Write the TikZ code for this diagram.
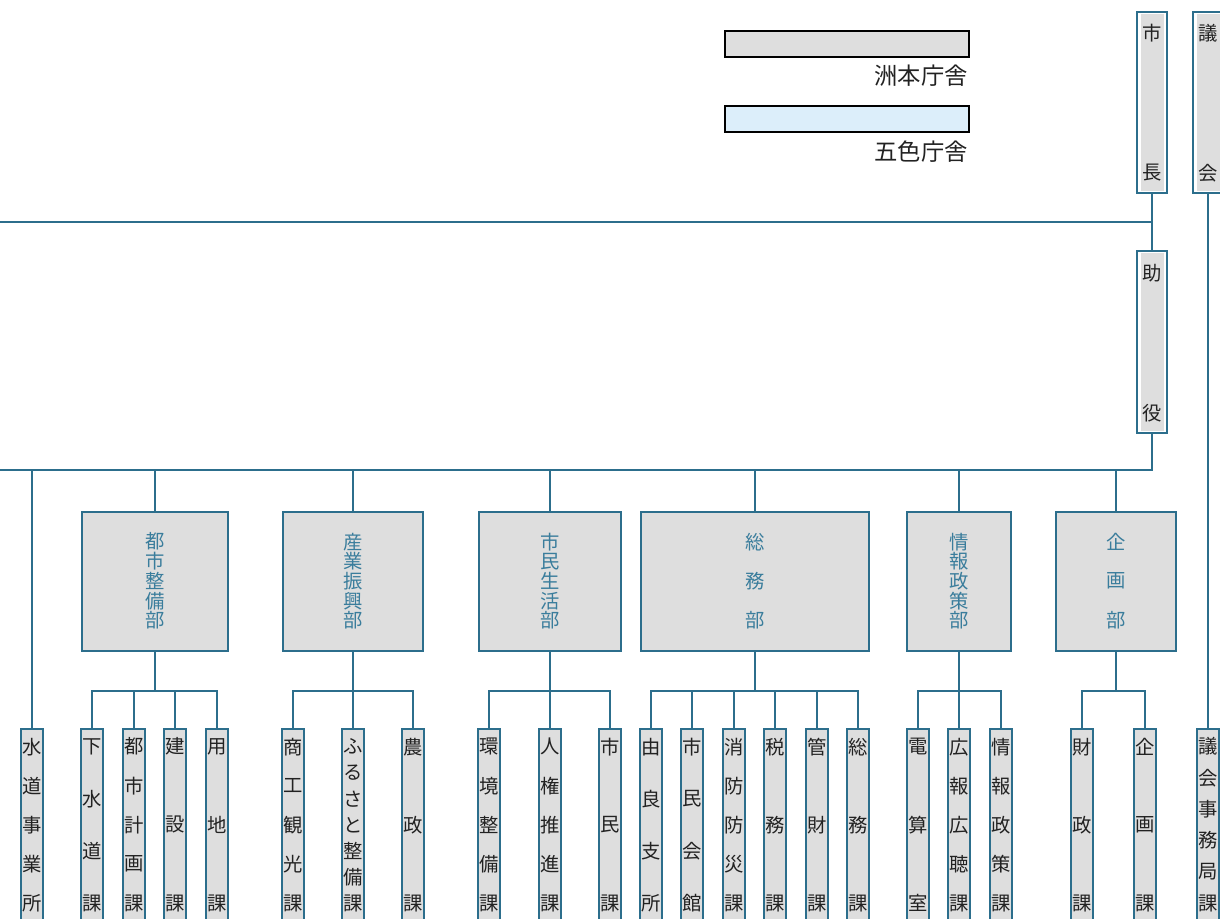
\documentclass[tikz,border=0pt]{standalone}
\usepackage{fontspec}
\setmainfont{Noto Sans CJK JP}
\usetikzlibrary{calc}
\definecolor{tealline}{HTML}{2C6E8C}
\definecolor{boxgray}{HTML}{DEDEDE}
\definecolor{legblue}{HTML}{DCEEFA}
\definecolor{depttext}{HTML}{3A7D9C}
\definecolor{chartext}{HTML}{222222}
\tikzset{
  conn/.style={draw=tealline, line width=1.1pt},
  childbox/.style={draw=tealline, fill=boxgray, line width=1.2pt, inner sep=0pt,
    minimum width=16.5pt, minimum height=147pt},
  deptbox/.style={draw=tealline, fill=boxgray, line width=1.2pt, inner sep=0pt, minimum height=104.25pt},
  topbox/.style={draw=tealline, fill=white, line width=1.3pt, inner sep=0pt, minimum width=22.5pt, minimum height=136pt},
  childtext/.style={inner sep=0pt, text=chartext, font=\fontsize{14.5}{14.5}\selectfont},
  depttxt/.style={inner sep=0pt, text=depttext, font=\fontsize{14.5}{14.5}\selectfont},
  legbar/.style={draw=black, line width=1pt, inner sep=0pt, minimum width=183pt, minimum height=19.5pt},
  legtext/.style={inner sep=0pt, anchor=east, text=chartext, font=\fontsize{17.5}{17.5}\selectfont},
}
% #1 prefix, #2 style, #3 x, #4 ytop, #5 ybot, #6 n, #7 list
\newcommand{\vchars}[7]{%
  \foreach \c [count=\i] in {#7} {
    \node[#2] (#1-\i) at ({#3},{#4+(\i-1)*(#5-#4)/(#6-1)}) {\c};
  }%
}
% child: #1 name, #2 x, #3 n, #4 chars
\newcommand{\childnode}[4]{%
  \node[childbox] (#1) at (#2,826.75) {};
  \vchars{#1}{childtext}{#2}{746.7}{903}{#3}{#4}%
}
% dept: #1 name, #2 x1, #3 x2, #4 n, #5 chars
\newcommand{\deptnode}[5]{%
  \node[deptbox, minimum width={(#3-#2)*0.75pt}] (#1) at ({(#2+#3)/2},581.5) {};
  \vchars{#1}{depttxt}{(#2+#3)/2}{541.7}{620.5}{#4}{#5}%
  \coordinate (#1-bus) at ($(#1.south)+(0,39)$);
  \draw[conn] (#1.south) -- (#1-bus);
}
\begin{document}
\begin{tikzpicture}[x=0.75pt, y=-0.75pt]
\useasboundingbox (0,0) rectangle (1220,919);

% legend
\node[legbar, fill=boxgray] (leg1) at (847,44) {};
\node[legtext] (leg1t) at (968,76) {洲本庁舎};
\node[legbar, fill=legblue] (leg2) at (847,119) {};
\node[legtext] (leg2t) at (968,152) {五色庁舎};

% top boxes
\node[topbox] (mayor) at (1152,102.5) {};
\fill[boxgray] ($(mayor.south west)+(5,-3)$) rectangle ($(mayor.north east)+(-4,3)$);
\vchars{mayor}{childtext}{1152.5}{33}{173}{2}{市,長}
\node[topbox] (gikai) at (1208,102.5) {};
\fill[boxgray] ($(gikai.south west)+(5,-3)$) rectangle ($(gikai.north east)+(-4,3)$);
\vchars{gikai}{childtext}{1208.5}{33}{173}{2}{議,会}
\node[topbox] (joyaku) at (1152,342) {};
\fill[boxgray] ($(joyaku.south west)+(5,-3)$) rectangle ($(joyaku.north east)+(-4,3)$);
\vchars{joyaku}{childtext}{1152.5}{273}{413}{2}{助,役}

\coordinate (L1) at (0,222);
\coordinate (L2) at (0,470);
\draw[conn] (mayor.south) -- (joyaku.north);
\draw[conn] (mayor.south |- L1) -- (L1);
\draw[conn] (joyaku.south) |- (L2);

% departments
\deptnode{toshi}{82}{228}{5}{都,市,整,備,部}
\deptnode{sangyo}{283}{423}{5}{産,業,振,興,部}
\deptnode{shimin}{479}{621}{5}{市,民,生,活,部}
\deptnode{somu}{641}{869}{3}{総,務,部}
\deptnode{joho}{907}{1011}{5}{情,報,政,策,部}
\deptnode{kikaku}{1056}{1176}{3}{企,画,部}
\foreach \d in {toshi,sangyo,shimin,somu,joho,kikaku}
  \draw[conn] (\d.north) -- (\d.north |- L2);

% sections
\childnode{suido}{32}{5}{水,道,事,業,所}
\draw[conn] (suido.north) -- (suido.north |- L2);
\childnode{gikaijimu}{1208}{6}{議,会,事,務,局,課}
\draw[conn] (gikai.south) -- (gikaijimu.north);

\childnode{gesui}{92}{4}{下,水,道,課}
\childnode{toshikeikaku}{134}{5}{都,市,計,画,課}
\childnode{kensetsu}{175}{3}{建,設,課}
\childnode{yochi}{217}{3}{用,地,課}
\foreach \c in {gesui,toshikeikaku,kensetsu,yochi} \draw[conn] (\c.north) |- (toshi-bus);

\childnode{shoko}{293}{5}{商,工,観,光,課}
\childnode{furusato}{353}{7}{ふ,る,さ,と,整,備,課}
\childnode{nosei}{413}{3}{農,政,課}
\foreach \c in {shoko,furusato,nosei} \draw[conn] (\c.north) |- (sangyo-bus);

\childnode{kankyo}{489}{5}{環,境,整,備,課}
\childnode{jinken}{550}{5}{人,権,推,進,課}
\childnode{shiminka}{610}{3}{市,民,課}
\foreach \c in {kankyo,jinken,shiminka} \draw[conn] (\c.north) |- (shimin-bus);

\childnode{yura}{651}{4}{由,良,支,所}
\childnode{kaikan}{692}{4}{市,民,会,館}
\childnode{shobo}{734}{5}{消,防,防,災,課}
\childnode{zeimu}{775}{3}{税,務,課}
\childnode{kanzai}{817}{3}{管,財,課}
\childnode{somuka}{858}{3}{総,務,課}
\foreach \c in {yura,kaikan,shobo,zeimu,kanzai,somuka} \draw[conn] (\c.north) |- (somu-bus);

\childnode{densan}{918}{3}{電,算,室}
\childnode{koho}{959}{5}{広,報,広,聴,課}
\childnode{johoka}{1001}{5}{情,報,政,策,課}
\foreach \c in {densan,koho,johoka} \draw[conn] (\c.north) |- (joho-bus);

\childnode{zaisei}{1082}{3}{財,政,課}
\childnode{kikakuka}{1145}{3}{企,画,課}
\foreach \c in {zaisei,kikakuka} \draw[conn] (\c.north) |- (kikaku-bus);
\end{tikzpicture}
\end{document}
